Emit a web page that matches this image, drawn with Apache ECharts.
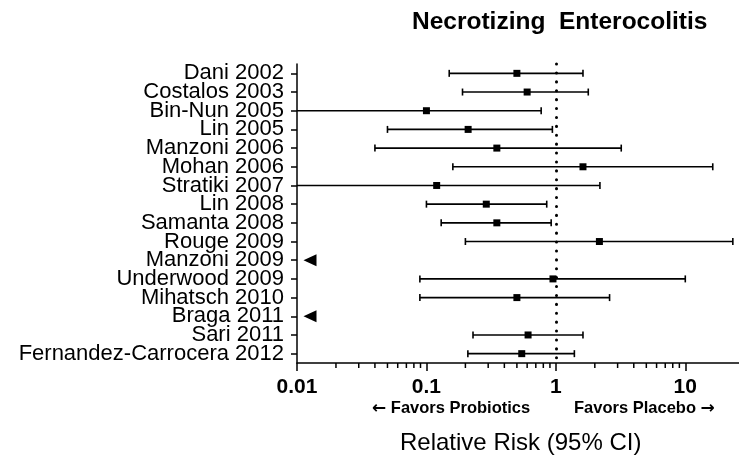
<!DOCTYPE html>
<html>
<head>
<meta charset="utf-8">
<script src="https://cdn.jsdelivr.net/npm/echarts@6/dist/echarts.min.js"></script>
<style>
  html, body { margin: 0; padding: 0; background: #fff; }
  #chart { width: 739px; height: 462px; }
</style>
</head>
<body>
<div id="chart"></div>
<script>
// studies, top to bottom
var studies = ['Dani 2002', 'Costalos 2003', 'Bin-Nun 2005', 'Lin 2005', 'Manzoni 2006',
    'Mohan 2006', 'Stratiki 2007', 'Lin 2008', 'Samanta 2008', 'Rouge 2009', 'Manzoni 2009',
    'Underwood 2009', 'Mihatsch 2010', 'Braga 2011', 'Sari 2011', 'Fernandez-Carrocera 2012'];
// relative risk and 95% CI (null = not estimable, shown as arrow)
var rr    = [0.50, 0.60, 0.10, 0.21, 0.35, 1.62, 0.12, 0.29, 0.35, 2.17, null, 0.95, 0.50, null, 0.61, 0.545];
var lower = [0.15, 0.19, 0.008, 0.050, 0.040, 0.16, 0.008, 0.10, 0.13, 0.20, null, 0.089, 0.089, null, 0.229, 0.209];
var upper = [1.62, 1.78, 0.77, 0.94, 3.2, 16.3, 2.19, 0.85, 0.92, 23.3, null, 10.0, 2.6, null, 1.62, 1.39];
// arrow markers for studies with zero events
var arrowStudies = ['Manzoni 2009', 'Braga 2011'];
var arrowValue = 0.0126;
var xTicks = [0.01, 0.1, 1, 10];
var minorTicks = [0.02, 0.03, 0.04, 0.05, 0.06, 0.07, 0.08, 0.09,
    0.2, 0.3, 0.4, 0.5, 0.6, 0.7, 0.8, 0.9, 2, 3, 4, 5, 6, 7, 8, 9];

var chart = echarts.init(document.getElementById('chart'));

var ciData = [];
for (var i = 0; i < studies.length; i++) {
    if (rr[i] !== null) ciData.push([lower[i], upper[i], rr[i], i]);
}

function renderCI(params, api) {
    var yi = api.value(3);
    var lo = api.coord([api.value(0), yi]);
    var hi = api.coord([api.value(1), yi]);
    var pt = api.coord([api.value(2), yi]);
    var s = { stroke: '#000', lineWidth: 1.6 };
    return {
        type: 'group',
        children: [
            { type: 'line', shape: { x1: lo[0], y1: lo[1], x2: hi[0], y2: hi[1] }, style: s },
            { type: 'line', shape: { x1: lo[0], y1: lo[1] - 3.5, x2: lo[0], y2: lo[1] + 3.5 }, style: s },
            { type: 'line', shape: { x1: hi[0], y1: hi[1] - 3.5, x2: hi[0], y2: hi[1] + 3.5 }, style: s },
            { type: 'rect', shape: { x: pt[0] - 3.5, y: pt[1] - 3.5, width: 7, height: 7 }, style: { fill: '#000' } }
        ]
    };
}

function renderMinor(params, api) {
    var p = api.coord([api.value(0), api.value(1)]);
    var y0 = params.coordSys.y + params.coordSys.height;
    return {
        type: 'line',
        shape: { x1: p[0], y1: y0, x2: p[0], y2: y0 + 5 },
        style: { stroke: '#000', lineWidth: 1.5 }
    };
}

function favorsText(arrowFirst, words) {
    return {
        text: arrowFirst ? '{a|\u2190} ' + words : words + ' {a|\u2192}',
        fontFamily: 'Liberation Sans', fontWeight: 'bold', fontSize: 16.5, fill: '#000',
        rich: { a: { fontFamily: 'DejaVu Sans', fontWeight: 'bold', fontSize: 17, fill: '#000' } }
    };
}

var option = {
    backgroundColor: '#ffffff',
    animation: false,
    title: {
        text: 'Necrotizing  Enterocolitis',
        left: 412, top: 10, padding: 0,
        textStyle: { fontFamily: 'Liberation Sans', fontWeight: 'bold', fontSize: 24.5, color: '#000' }
    },
    grid: { left: 297, right: 0, top: 64, bottom: 99, containLabel: false },
    xAxis: {
        type: 'log',
        min: 0.01, max: 26,
        logBase: 10,
        axisLine: { show: true, lineStyle: { color: '#000', width: 1.5 } },
        axisTick: { show: true, length: 8, lineStyle: { color: '#000', width: 1.5 } },
        splitLine: { show: false },
        axisLabel: {
            color: '#000', fontFamily: 'Liberation Sans', fontWeight: 'bold', fontSize: 21, margin: 14,
            showMaxLabel: false,
            formatter: function (v) {
                for (var k = 0; k < xTicks.length; k++) {
                    if (Math.abs(v - xTicks[k]) < xTicks[k] * 1e-6) return String(xTicks[k]);
                }
                return '';
            }
        }
    },
    yAxis: {
        type: 'category',
        data: studies,
        inverse: true,
        axisLine: { show: true, lineStyle: { color: '#000', width: 1.5 } },
        axisTick: { show: true, alignWithLabel: true, length: 6, lineStyle: { color: '#000', width: 1.5 } },
        axisLabel: { color: '#000', fontFamily: 'Liberation Sans', fontSize: 22, margin: 13, interval: 0 }
    },
    graphic: [
        { type: 'text', left: 372, top: 400, style: favorsText(true, 'Favors Probiotics') },
        { type: 'text', left: 574, top: 400, style: favorsText(false, 'Favors Placebo') },
        { type: 'text', left: 400, top: 431,
          style: { text: 'Relative Risk (95% CI)', fontFamily: 'Liberation Sans', fontSize: 24, fill: '#000' } }
    ],
    series: [
        {
            type: 'custom',
            renderItem: renderMinor,
            encode: { x: 0, y: 1 },
            data: minorTicks.map(function (v) { return [v, studies.length - 1]; }),
            clip: false,
            silent: true
        },
        {
            type: 'custom',
            renderItem: renderCI,
            encode: { x: 2, y: 3 },
            data: ciData,
            clip: true
        },
        {
            type: 'scatter',
            symbol: 'triangle',
            symbolSize: [12, 13],
            symbolRotate: 90,
            itemStyle: { color: '#000', opacity: 1 },
            data: arrowStudies.map(function (s) { return [arrowValue, studies.indexOf(s)]; }),
            markLine: {
                silent: true,
                symbol: 'none',
                label: { show: false },
                lineStyle: { color: '#000', width: 3, type: [0.1, 8.8], cap: 'round', opacity: 1 },
                data: [{ xAxis: 1 }]
            }
        }
    ]
};
chart.setOption(option);
</script>
</body>
</html>
